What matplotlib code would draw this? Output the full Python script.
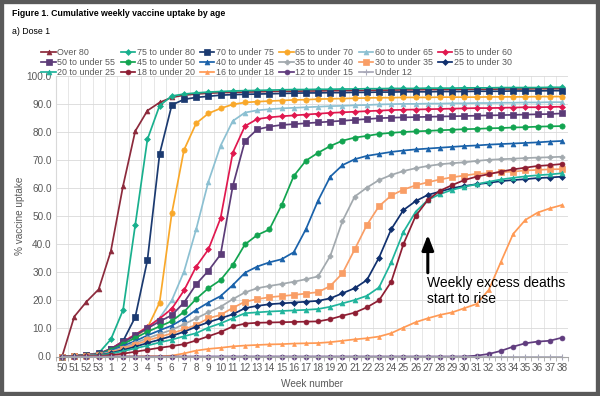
import matplotlib
matplotlib.use("Agg")
import matplotlib.pyplot as plt
from matplotlib.patches import Rectangle
import numpy as np

plt.rcParams['font.family'] = ['Liberation Sans', 'DejaVu Sans']

# week labels on the category axis
weeks = ['50', '51', '52', '53', '1', '2', '3', '4', '5', '6', '7', '8', '9', '10',
         '11', '12', '13', '14', '15', '16', '17', '18', '19', '20', '21', '22', '23',
         '24', '25', '26', '27', '28', '29', '30', '31', '32', '33', '34', '35', '36',
         '37', '38']

# cumulative % first dose, one list per age band
over_80 = [0, 14.2, 19.5, 23.9, 37.5, 60.7, 80.2, 87.5, 90.4, 92.2, 93.0, 93.4, 93.7, 93.9,
           94.0, 94.1, 94.2, 94.3, 94.4, 94.4, 94.5, 94.5, 94.6, 94.6, 94.7, 94.7, 94.8, 94.8,
           94.9, 94.9, 95.0, 95.0, 95.0, 95.1, 95.1, 95.1, 95.2, 95.2, 95.2, 95.3, 95.3, 95.3]
age_75_80 = [0, 0.3, 0.6, 1.2, 6.1, 16.5, 46.8, 77.3, 89.3, 92.7, 93.4, 93.8, 94.1, 94.3,
             94.5, 94.6, 94.7, 94.8, 94.9, 95.0, 95.0, 95.1, 95.1, 95.2, 95.2, 95.3, 95.3, 95.4,
             95.4, 95.4, 95.5, 95.5, 95.5, 95.6, 95.6, 95.6, 95.7, 95.7, 95.7, 95.7, 95.8, 95.8]
age_70_75 = [0, 0.3, 0.6, 1.1, 2.6, 5.5, 14.0, 34.3, 72.1, 89.5, 91.5, 92.2, 92.6, 93.0,
             93.2, 93.3, 93.4, 93.5, 93.6, 93.7, 93.8, 93.8, 93.9, 93.9, 94.0, 94.0, 94.1, 94.1,
             94.2, 94.2, 94.2, 94.3, 94.3, 94.3, 94.4, 94.4, 94.4, 94.5, 94.5, 94.5, 94.6, 94.6]
age_65_70 = [0, 0.2, 0.5, 0.9, 2.5, 4.5, 7.0, 10.2, 19.2, 51.0, 73.5, 83.0, 86.5, 88.3,
             89.7, 90.4, 90.7, 90.9, 91.1, 91.3, 91.4, 91.6, 91.7, 91.8, 91.9, 92.0, 92.1, 92.1,
             92.2, 92.2, 92.2, 92.3, 92.3, 92.3, 92.3, 92.4, 92.4, 92.4, 92.4, 92.5, 92.5, 92.5]
age_60_65 = [0, 0.2, 0.5, 0.9, 2.6, 4.8, 7.5, 10.3, 13.7, 20.0, 30.2, 45.3, 62.2, 75.0,
             83.8, 86.8, 87.6, 88.0, 88.3, 88.5, 88.7, 88.9, 89.1, 89.2, 89.4, 89.5, 89.7, 89.8,
             89.9, 89.9, 90.0, 90.0, 90.1, 90.1, 90.2, 90.2, 90.3, 90.3, 90.4, 90.4, 90.5, 90.5]
age_55_60 = [0, 0.2, 0.5, 0.9, 2.8, 5.3, 7.8, 10.5, 13.5, 17.0, 23.5, 32.0, 38.1, 49.2,
             72.5, 82.0, 84.5, 85.1, 85.5, 85.8, 86.1, 86.4, 86.7, 86.9, 87.1, 87.3, 87.5, 87.7,
             87.8, 87.9, 88.0, 88.1, 88.2, 88.3, 88.4, 88.4, 88.5, 88.6, 88.7, 88.7, 88.8, 88.9]
age_50_55 = [0, 0.2, 0.5, 0.9, 2.7, 5.0, 7.5, 10.0, 12.5, 14.7, 19.2, 25.7, 30.5, 36.3,
             60.6, 76.7, 80.8, 81.8, 82.4, 82.7, 83.0, 83.3, 83.6, 83.9, 84.2, 84.5, 84.8, 85.0,
             85.1, 85.2, 85.3, 85.4, 85.5, 85.6, 85.7, 85.8, 85.9, 86.0, 86.1, 86.2, 86.3, 86.5]
age_45_50 = [0, 0.2, 0.4, 0.8, 2.4, 4.4, 6.6, 8.8, 10.7, 12.6, 15.9, 20.5, 24.3, 27.2,
             32.6, 39.9, 43.2, 45.2, 53.8, 64.2, 69.7, 72.5, 74.9, 76.8, 77.9, 78.5, 79.2, 79.6,
             79.9, 80.1, 80.3, 80.5, 80.7, 80.9, 81.0, 81.2, 81.3, 81.5, 81.6, 81.8, 81.9, 82.0]
age_40_45 = [0, 0.1, 0.4, 0.7, 2.0, 3.8, 5.5, 7.5, 9.3, 11.0, 13.5, 16.6, 19.2, 21.5,
             25.4, 29.8, 32.0, 33.5, 34.6, 37.1, 45.3, 55.5, 64.0, 68.1, 70.2, 71.4, 72.1, 72.8,
             73.3, 73.7, 74.0, 74.3, 74.6, 74.9, 75.1, 75.4, 75.6, 75.8, 76.0, 76.2, 76.5, 76.7]
age_35_40 = [0, 0.1, 0.3, 0.6, 1.7, 3.2, 4.8, 6.5, 8.0, 9.5, 11.5, 13.6, 15.7, 17.7,
             20.4, 22.8, 24.3, 25.1, 25.8, 26.6, 27.5, 28.5, 35.8, 48.2, 56.9, 60.1, 62.8, 64.6,
             66.0, 67.0, 67.8, 68.4, 68.8, 69.1, 69.6, 70.0, 70.2, 70.4, 70.6, 70.8, 70.9, 71.1]
age_30_35 = [0, 0.1, 0.3, 0.5, 1.4, 2.8, 4.2, 5.7, 7.0, 8.2, 9.7, 11.2, 13.6, 14.8,
             17.3, 19.5, 20.4, 21.1, 21.5, 21.9, 22.4, 22.9, 25.1, 29.6, 38.1, 46.8, 53.5, 57.3,
             59.4, 60.9, 62.0, 63.0, 63.8, 64.4, 65.0, 65.2, 65.6, 65.8, 66.2, 66.4, 66.6, 66.7]
age_25_30 = [0, 0.1, 0.2, 0.5, 1.2, 2.3, 3.5, 4.8, 6.0, 7.3, 8.8, 10.6, 12.2, 13.6,
             15.0, 17.2, 18.0, 18.6, 18.9, 19.2, 19.5, 19.8, 20.7, 22.5, 24.3, 27.2, 35.2, 45.3,
             52.1, 55.3, 57.5, 58.7, 59.9, 60.7, 61.3, 61.8, 62.4, 62.8, 63.1, 63.5, 63.7, 64.0]
age_20_25 = [0, 0.1, 0.2, 0.4, 1.0, 1.9, 2.9, 3.9, 5.0, 6.0, 7.2, 8.3, 10.3, 11.8,
             13.6, 15.4, 15.7, 16.0, 16.2, 16.4, 16.6, 16.9, 17.7, 18.9, 20.1, 21.6, 24.6, 33.5,
             44.3, 51.5, 55.7, 57.8, 59.3, 60.4, 61.3, 62.2, 63.0, 63.6, 64.1, 64.5, 64.8, 65.2]
age_18_20 = [0, 0.0, 0.1, 0.2, 0.5, 1.0, 1.7, 2.4, 3.1, 3.7, 4.4, 5.7, 7.2, 8.7,
             10.7, 11.7, 12.0, 12.1, 12.2, 12.3, 12.4, 12.5, 13.3, 14.5, 15.6, 17.5, 20.0, 26.6,
             40.0, 50.0, 55.7, 59.0, 61.0, 62.8, 64.0, 64.9, 65.8, 66.6, 67.2, 67.8, 68.1, 68.5]
age_16_18 = [0, 0, 0, 0, 0, 0, 0, 0.1, 0.1, 0.3, 1.1, 2.1, 2.7, 3.1,
             3.6, 3.9, 4.1, 4.3, 4.4, 4.6, 4.7, 4.8, 5.1, 5.6, 6.1, 6.5, 7.1, 8.3,
             10.3, 12.2, 13.6, 14.8, 15.7, 17.2, 18.7, 23.7, 33.7, 43.6, 48.6, 51.2, 52.7, 53.9]
age_12_15 = [0, 0, 0, 0, 0, 0, 0, 0, 0, 0, 0, 0, 0, 0,
             0, 0, 0, 0, 0, 0, 0, 0, 0, 0, 0, 0, 0, 0,
             0, 0, 0, 0, 0, 0, 0.3, 0.9, 2.0, 3.5, 4.7, 5.3, 5.6, 6.7]
under_12 = [0] * 42

labels = ['Over 80', '75 to under 80', '70 to under 75', '65 to under 70', '60 to under 65',
          '55 to under 60', '50 to under 55', '45 to under 50', '40 to under 45',
          '35 to under 40', '30 to under 35', '25 to under 30', '20 to under 25',
          '18 to under 20', '16 to under 18', '12 to under 15', 'Under 12']
series = [over_80, age_75_80, age_70_75, age_65_70, age_60_65, age_55_60, age_50_55,
          age_45_50, age_40_45, age_35_40, age_30_35, age_25_30, age_20_25, age_18_20,
          age_16_18, age_12_15, under_12]
colors = ['#8C2A3C', '#19B08E', '#1B3A70', '#F9A82A', '#8CC0D2', '#E0184F', '#5C3C78',
          '#12A450', '#1A62AA', '#A2A9AE', '#F99E66', '#10306E', '#20B49C', '#8E1E33',
          '#FF9A55', '#603C7E', '#A8A8B8']
markers = ['^', 'D', 's', 'o', '^', 'D', 's', 'o', '^', 'P', 's', 'D', '^', 'o', '^', 'o', '+']
msizes = [3.5, 3.0, 4.0, 3.8, 3.5, 3.0, 4.0, 3.8, 3.5, 3.5, 4.0, 3.0, 3.5, 3.5, 2.8, 3.5, 4.0]

fig = plt.figure(figsize=(6, 3.96), dpi=100)
ax = fig.add_axes([56 / 600, 1 - 356.5 / 396, 512 / 600, 281 / 396])

x = np.arange(len(weeks))
for vals, lab, col, mk, ms in zip(series, labels, colors, markers, msizes):
    ax.plot(x, vals, color=col, marker=mk, markersize=ms, linewidth=1.25,
            markeredgewidth=0.8 if mk == '+' else 0.5, label=lab, clip_on=False)

ax.set_xlim(-0.5, len(weeks) - 0.5)
ax.set_ylim(0, 100)
ax.set_yticks(np.arange(0, 101, 10))
ax.set_yticklabels(['%.1f' % v for v in np.arange(0, 101, 10)])
ax.set_xticks(x)
ax.set_xticklabels(weeks)
ax.set_xticks(np.arange(-0.5, len(weeks), 1), minor=True)

ax.tick_params(axis='x', which='major', length=0, labelsize=7.2, colors='#595959', pad=5)
ax.tick_params(axis='x', which='minor', length=3, color='#A6A6A6')
ax.tick_params(axis='y', length=0, labelsize=7.2, colors='#595959', pad=3)

ax.grid(True, axis='y', color='#D9D9D9', linewidth=0.6)
ax.grid(True, axis='x', which='minor', color='#E3E3E3', linewidth=0.6)
ax.set_axisbelow(True)
for s in ['top', 'right']:
    ax.spines[s].set_visible(False)
ax.spines['left'].set_color('#D9D9D9')
ax.spines['bottom'].set_color('#A6A6A6')

ax.set_xlabel('Week number', fontsize=7.2, color='#595959', labelpad=4)
ax.set_ylabel('% vaccine uptake', fontsize=7.2, color='#595959')
ax.yaxis.set_label_coords(-31 / 512, 0.5)

# arrow and note about excess deaths
ax.annotate('', xy=(30, 43.3), xytext=(30, 29.8),
            arrowprops=dict(arrowstyle='-|>,head_width=0.35,head_length=0.9',
                            lw=2.2, color='black', shrinkA=0, shrinkB=0))
ax.text(29.9, 23.2, 'Weekly excess deaths\nstart to rise', fontsize=10, va='center',
        ha='left', linespacing=1.15, color='black')

fig.text(12 / 600, 1 - 13.5 / 396, 'Figure 1. Cumulative weekly vaccine uptake by age',
         fontsize=6.3, fontweight='bold', va='center', ha='left')
fig.text(12 / 600, 1 - 31 / 396, 'a) Dose 1', fontsize=6.3, va='center', ha='left')

# legend laid out row by row like the original
h, l = ax.get_legend_handles_labels()
order = [0, 6, 12, 1, 7, 13, 2, 8, 14, 3, 9, 15, 4, 10, 16, 5, 11]
fig.legend([h[i] for i in order], [l[i] for i in order], loc='upper left',
           bbox_to_anchor=(37 / 600, 1 - 43.5 / 396), ncol=6, frameon=False,
           fontsize=6.4, handlelength=1.6, handletextpad=0.2, columnspacing=0.6,
           labelspacing=0.1, borderpad=0, labelcolor='#595959')

fig.patches.append(Rectangle((0, 0), 1, 1, transform=fig.transFigure, fill=False,
                             edgecolor='#5A5A5A', linewidth=6))

fig.savefig('out.png', dpi=100)
